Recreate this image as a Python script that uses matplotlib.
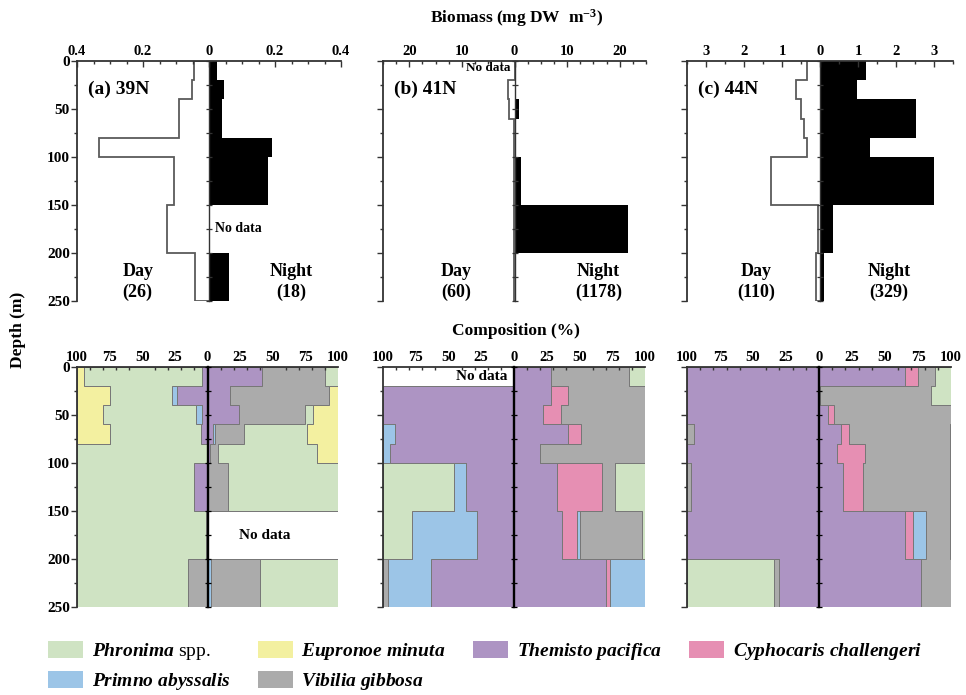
import numpy as np
import matplotlib.pyplot as plt
from matplotlib.patches import Patch
from matplotlib.ticker import MultipleLocator, FuncFormatter

plt.rcParams['font.family'] = ['Liberation Serif', 'DejaVu Serif']
plt.rcParams['font.weight'] = 'bold'
plt.rcParams['mathtext.fontset'] = 'custom'
plt.rcParams['mathtext.rm'] = 'Liberation Serif:bold'
plt.rcParams['mathtext.bf'] = 'Liberation Serif:bold'
plt.rcParams['mathtext.it'] = 'Liberation Serif:italic'

# depth bins (m)
depth_edges = [0, 20, 40, 60, 80, 100, 150, 200, 250]
stations = ['(a) 39N', '(b) 41N', '(c) 44N']
n_day = [26, 60, 110]
n_night = [18, 1178, 329]
bio_lim = [0.4, 25, 3.5]

# biomass (mg DW m-3), 0 = no data
bio_day_39 = [0.044, 0.053, 0.092, 0.092, 0.333, 0.106, 0.126, 0.042]
bio_night_39 = [0.025, 0.046, 0.038, 0.038, 0.19, 0.18, 0, 0.06]
bio_day_41 = [0, 1.3, 1.0, 0.12, 0.12, 0.12, 0.12, 0.12]
bio_night_41 = [0.3, 0.3, 0.77, 0.3, 0.3, 1.2, 21.5, 0.25]
bio_day_44 = [0.33, 0.64, 0.51, 0.42, 0.33, 1.28, 0.05, 0.1]
bio_night_44 = [1.21, 0.97, 2.52, 2.52, 1.32, 3.0, 0.33, 0.1]

# composition (%), rows in stacking order from the centre line
species = ['Themisto pacifica', 'Cyphocaris challengeri', 'Primno abyssalis',
           'Vibilia gibbosa', 'Phronima spp.', 'Eupronoe minuta']
sp_colors = ['#ad94c3', '#e68fb3', '#9cc5e7', '#ababab', '#cfe3c3', '#f3f0a0']

comp_day_39 = [[4, 23, 4, 5, 0.5, 10, 0.5, 0],
               [0, 0, 0, 0, 0, 0, 0, 0],
               [0, 4, 5, 0, 0, 0, 0.5, 0],
               [0, 0, 0, 0, 0, 0, 0, 15],
               [91, 48, 71, 70, 99.5, 90, 99, 85],
               [5, 25, 20, 25, 0, 0, 0, 0]]
comp_night_39 = [[42, 17, 24, 4, 2, 0, 0, 0],
                 [0, 0, 0, 0, 0, 0, 0, 0],
                 [0, 0, 0, 2, 0, 0, 0, 3],
                 [48, 76, 51, 22, 6, 16, 0, 37],
                 [10, 0, 6, 48, 76, 84, 0, 60],
                 [0, 7, 19, 24, 16, 0, 0, 0]]
comp_day_41 = [[0, 100, 100, 91, 95, 37, 28, 63],
               [0, 0, 0, 0, 0, 0, 0, 0],
               [0, 0, 0, 9, 5, 9, 50, 33],
               [0, 0, 0, 0, 0, 0, 0, 4],
               [0, 0, 0, 0, 0, 54, 22, 0],
               [0, 0, 0, 0, 0, 0, 0, 0]]
comp_night_41 = [[28, 28, 22, 41, 20, 33, 37, 70],
                 [0, 13, 14, 10, 0, 34, 11, 3],
                 [0, 0, 0, 0, 0, 0, 2, 27],
                 [60, 59, 64, 49, 80, 10, 48, 0],
                 [12, 0, 0, 0, 0, 23, 2, 0],
                 [0, 0, 0, 0, 0, 0, 0, 0]]
comp_day_44 = [[100, 100, 100, 95, 100, 97, 100, 30],
               [0, 0, 0, 0, 0, 0, 0, 0],
               [0, 0, 0, 0, 0, 0, 0, 0],
               [0, 0, 0, 5, 0, 3, 0, 4],
               [0, 0, 0, 0, 0, 0, 0, 66],
               [0, 0, 0, 0, 0, 0, 0, 0]]
comp_night_44 = [[65, 1, 7, 17, 14, 18, 65, 77],
                 [10, 0, 4, 6, 21, 15, 6, 0],
                 [0, 0, 0, 0, 0, 0, 10, 0],
                 [13, 84, 89, 76, 64, 66, 18, 23],
                 [12, 15, 0, 1, 1, 1, 1, 0],
                 [0, 0, 0, 0, 0, 0, 0, 0]]

bio_day = [bio_day_39, bio_day_41, bio_day_44]
bio_night = [bio_night_39, bio_night_41, bio_night_44]
comp_day = [comp_day_39, comp_day_41, comp_day_44]
comp_night = [comp_night_39, comp_night_41, comp_night_44]

W, H = 966, 695
fig = plt.figure(figsize=(W / 100, H / 100), dpi=100)

top_box = [(77, 264), (383, 263), (687, 266)]
bot_box = [(77, 261), (383, 262), (687, 264)]
day_x = [0.23, 0.28, 0.26]
night_x = [0.81, 0.82, 0.76]
minor_x = [0.05, 2.5, 0.5]
major_x = [0.2, 10, 1]

absfmt = FuncFormatter(lambda v, p: f'{abs(v):g}')
spine_c = '#333333'


def style_axes(ax, show_y):
    ax.set_ylim(250, 0)
    for s in ['right', 'bottom']:
        ax.spines[s].set_visible(False)
    for s in ['left', 'top']:
        ax.spines[s].set_color(spine_c)
        ax.spines[s].set_linewidth(1.3)
    ax.xaxis.tick_top()
    ax.xaxis.set_major_formatter(absfmt)
    ax.yaxis.set_major_locator(MultipleLocator(50))
    ax.yaxis.set_minor_locator(MultipleLocator(25))
    ax.tick_params(axis='x', which='both', direction='in', top=True,
                   bottom=False, labelsize=10.5, pad=2, color=spine_c)
    ax.tick_params(axis='y', which='both', direction='out', labelsize=11,
                   pad=1, color=spine_c, labelleft=show_y)
    ax.tick_params(which='major', length=4, width=1)
    ax.tick_params(which='minor', length=2.5, width=1)


def centre_line(ax, lw, color):
    sec = ax.secondary_yaxis(0.5)
    sec.set_zorder(4)
    sec.yaxis.set_major_locator(MultipleLocator(25))
    sec.tick_params(labelright=False, labelleft=False, direction='inout',
                    length=4, width=0.9, color=color)
    for s in ['left', 'right']:
        sec.spines[s].set_color(color)
        sec.spines[s].set_linewidth(lw)


for i in range(3):
    # biomass profiles
    x0, w = top_box[i]
    ax = fig.add_axes([x0 / W, 1 - 301 / H, w / W, 240 / H])
    lim = bio_lim[i]
    ax.set_xlim(-lim, lim)
    style_axes(ax, i == 0)
    ax.xaxis.set_major_locator(MultipleLocator(major_x[i]))
    ax.xaxis.set_minor_locator(MultipleLocator(minor_x[i]))
    ax.stairs(-np.array(bio_day[i]), depth_edges, orientation='horizontal',
              baseline=0, fill=False, edgecolor='#5a5a5a', linewidth=1.3)
    ax.stairs(bio_night[i], depth_edges, orientation='horizontal',
              fill=True, color='black')
    centre_line(ax, 1.0, '#333333')
    ax.text(0.04, 0.88, stations[i], transform=ax.transAxes, fontsize=14,
            va='center')
    ax.text(day_x[i], 0.08, f'Day\n({n_day[i]})', transform=ax.transAxes,
            ha='center', va='center', fontsize=13, linespacing=1.25)
    ax.text(night_x[i], 0.08, f'Night\n({n_night[i]})',
            transform=ax.transAxes, ha='center', va='center', fontsize=13,
            linespacing=1.25)

    # composition profiles
    x0, w = bot_box[i]
    bx = fig.add_axes([x0 / W, 1 - 607.3 / H, w / W, 240.6 / H])
    bx.set_xlim(-100, 100)
    style_axes(bx, i == 0)
    bx.xaxis.set_major_locator(MultipleLocator(25))
    bx.xaxis.set_minor_locator(MultipleLocator(10))
    bx.tick_params(axis='x', which='major', length=0)
    for comp, side in [(comp_day[i], -1), (comp_night[i], 1)]:
        lo = np.zeros(len(depth_edges) - 1)
        for vals, c in zip(comp, sp_colors):
            hi = lo + np.array(vals, dtype=float)
            bx.stairs(side * hi, depth_edges, baseline=side * lo,
                      orientation='horizontal', fill=True, facecolor=c,
                      edgecolor='#777777', linewidth=0.7)
            lo = hi
    centre_line(bx, 1.7, 'black')

    if i == 0:
        ax.text(0.09, 175, 'No data', ha='center', va='center', fontsize=10)
        bx.text(44, 175, 'No data', ha='center', va='center', fontsize=11)
    if i == 1:
        ax.text(-0.8, 7, 'No data', ha='right', va='center', fontsize=9.5)
        bx.text(-5, 10.5, 'No data', ha='right', va='center', fontsize=11)

fig.text(0.535, 0.974, 'Biomass (mg DW  m$^{-3}$)', ha='center',
         va='center', fontsize=12.5)
fig.text(0.534, 0.524, 'Composition (%)', ha='center', va='center',
         fontsize=12.5)
fig.text(0.019, 0.525, 'Depth (m)', rotation=90, ha='center', va='center',
         fontsize=12.5)

# legend (column-major order so rows read as in the figure)
leg_labels = [r'$\mathit{Phronima}$ spp.', r'$\mathit{Primno\ abyssalis}$',
              r'$\mathit{Eupronoe\ minuta}$', r'$\mathit{Vibilia\ gibbosa}$',
              r'$\mathit{Themisto\ pacifica}$',
              r'$\mathit{Cyphocaris\ challengeri}$']
leg_idx = [4, 2, 5, 3, 0, 1]
handles = [Patch(facecolor=sp_colors[k], edgecolor='none') for k in leg_idx]
fig.legend(handles, leg_labels, ncol=4, loc='upper left',
           bbox_to_anchor=(48 / W, 1 - 641 / H), frameon=False,
           prop={'family': 'Liberation Serif', 'weight': 'normal', 'size': 14},
           handlelength=1.8, handleheight=1.0, handletextpad=0.45,
           columnspacing=1.4, labelspacing=0.42, borderpad=0,
           borderaxespad=0)

fig.savefig('out.png', dpi=100)
